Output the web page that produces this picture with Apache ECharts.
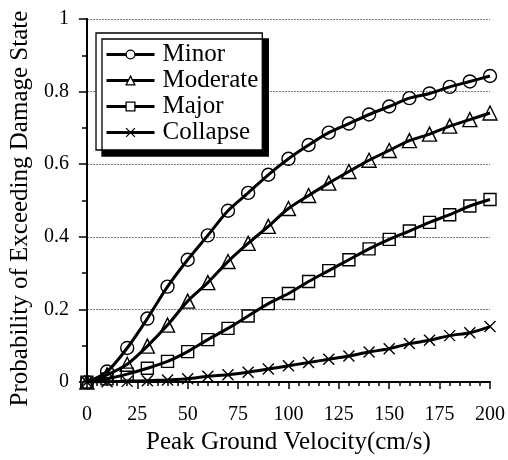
<!DOCTYPE html>
<html><head><meta charset="utf-8">
<script src="https://cdn.jsdelivr.net/npm/echarts@6/dist/echarts.min.js"></script>
<style>html,body{margin:0;padding:0;background:#fff}#c{width:508px;height:460px}</style>
</head><body><div id="c"></div>
<script>
var pgv = [0,10,20,30,40,50,60,70,80,90,100,110,120,130,140,150,160,170,180,190,200];
var minor = [0,0.029,0.094,0.175,0.263,0.337,0.404,0.472,0.521,0.571,0.615,0.653,0.687,0.712,0.737,0.759,0.782,0.795,0.813,0.828,0.843];
var moderate = [0,0.02,0.049,0.099,0.157,0.223,0.274,0.332,0.382,0.429,0.478,0.514,0.548,0.580,0.611,0.638,0.665,0.683,0.705,0.723,0.741];
var major = [0,0.009,0.022,0.038,0.057,0.084,0.117,0.148,0.182,0.216,0.244,0.277,0.307,0.337,0.367,0.393,0.416,0.440,0.461,0.485,0.503];
var collapse = [0,0.001,0.002,0.004,0.006,0.009,0.016,0.020,0.027,0.036,0.045,0.054,0.063,0.072,0.083,0.092,0.106,0.115,0.128,0.136,0.153];
var seriesNames = ['Minor','Moderate','Major','Collapse'];
var xTicks = [0,25,50,75,100,125,150,175,200];
var yTicks = [0,0.2,0.4,0.6,0.8,1];

var FONT = 'Liberation Serif';
function pairs(arr){ return pgv.map(function(x,i){ return [x, arr[i]]; }); }
var symbols = ['circle','triangle','rect','path://M0,0L10,10M10,0L0,10'];
var sizes = [13,14,12,11];
var datas = [minor, moderate, major, collapse];

var series = seriesNames.map(function(n,i){
  return {
    name: n, type: 'line', data: pairs(datas[i]), smooth: 0.3,
    symbol: symbols[i], symbolSize: sizes[i], showSymbol: true,
    lineStyle: {color:'#000', width: 3},
    itemStyle: {color:'rgba(0,0,0,0)', borderColor:'#000', borderWidth:1.4},
    emphasis: {disabled:true}, animation:false
  };
});

var chart = echarts.init(document.getElementById('c'), null, {renderer:'canvas'});
chart.setOption({
  animation:false,
  backgroundColor:'#fff',
  grid:{left:84, right:16, top:19, bottom:70, containLabel:false},
  legend:{
    orient:'vertical', left:96, top:33,
    data: seriesNames,
    itemWidth:48, itemHeight:11, itemGap:1,
    padding:[9,4,5,9],
    backgroundColor:'#fff', borderColor:'#000', borderWidth:1.3,
    shadowColor:'#000', shadowBlur:0, shadowOffsetX:6, shadowOffsetY:6,
    lineStyle:{color:'#000', width:3},
    itemStyle:{color:'#fff', borderColor:'#000', borderWidth:1.3},
    textStyle:{fontFamily:FONT, fontSize:25, color:'#000', lineHeight:24.5, padding:[0,0,0,3]},
    inactiveColor:'#000'
  },
  xAxis:{
    type:'value', min:xTicks[0], max:xTicks[xTicks.length-1], interval:25,
    name:'Peak Ground Velocity(cm/s)', nameLocation:'middle', nameGap:47,
    nameTextStyle:{fontFamily:FONT, fontSize:25, color:'#000'},
    axisLine:{show:true, onZero:false, lineStyle:{color:'#000', width:2}},
    axisTick:{show:true, inside:false, length:7, lineStyle:{color:'#000', width:1.5}},
    minorTick:{show:true, splitNumber:5, length:4, lineStyle:{color:'#000', width:1.5}},
    axisLabel:{fontFamily:FONT, fontSize:20, color:'#000', margin:23},
    splitLine:{show:false}
  },
  yAxis:[{
    type:'value', min:yTicks[0], max:yTicks[yTicks.length-1], interval:0.2,
    name:'Probability of Exceeding Damage State', nameLocation:'middle', nameGap:50,
    nameTextStyle:{fontFamily:FONT, fontSize:25, color:'#000', padding:[0,16,0,0]},
    axisLine:{show:true, onZero:false, lineStyle:{color:'#000', width:2}},
    axisTick:{show:true, inside:false, length:8, lineStyle:{color:'#000', width:1.5}},
    minorTick:{show:true, splitNumber:2, length:5, lineStyle:{color:'#000', width:1.5}},
    axisLabel:{fontFamily:FONT, fontSize:20, color:'#000', margin:18,
      formatter:function(v){ return String(Math.round(v*10)/10); }},
    splitLine:{show:true, lineStyle:{color:'#777', width:1, type:[2,1]}}
  },{
    type:'value', min:0, max:1, position:'right',
    axisLine:{show:true, lineStyle:{color:'#000', width:1.5}},
    axisTick:{show:false}, axisLabel:{show:false}, splitLine:{show:false}
  }],
  series: series
});
</script></body></html>
